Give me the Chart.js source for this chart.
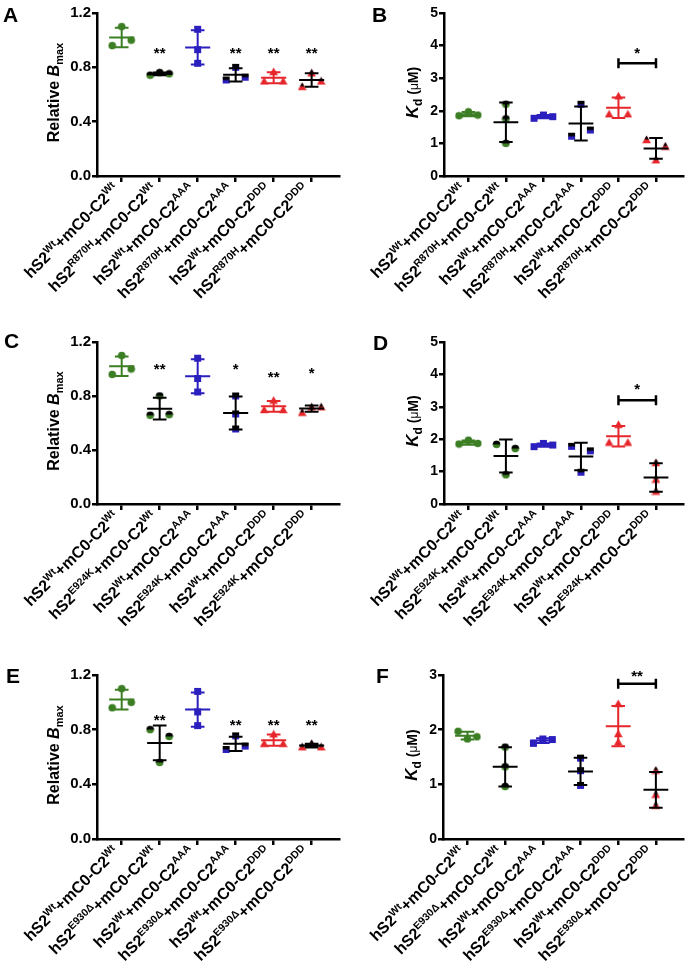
<!DOCTYPE html>
<html>
<head>
<meta charset="utf-8">
<script src="https://cdn.jsdelivr.net/npm/chart.js@4.4.1/dist/chart.umd.min.js"></script>
<style>
  html, body { margin: 0; padding: 0; background: #fff; }
  #wrap { position: relative; width: 688px; height: 970px; }
  canvas { position: absolute; }
</style>
</head>
<body>
<div id="wrap">
  <canvas id="cA" width="344" height="320" style="left:0;top:0"></canvas>
  <canvas id="cB" width="344" height="320" style="left:344px;top:0"></canvas>
  <canvas id="cC" width="344" height="320" style="left:0;top:320px"></canvas>
  <canvas id="cD" width="344" height="320" style="left:344px;top:320px"></canvas>
  <canvas id="cE" width="344" height="330" style="left:0;top:640px"></canvas>
  <canvas id="cF" width="344" height="330" style="left:344px;top:640px"></canvas>
</div>
<script>
// categorie-labels (hS2 variant + C2 variant)
const c2Variants = ['Wt', 'Wt', 'AAA', 'AAA', 'DDD', 'DDD'];
const s2VariantsR870H = ['Wt', 'R870H', 'Wt', 'R870H', 'Wt', 'R870H'];
const s2VariantsE924K = ['Wt', 'E924K', 'Wt', 'E924K', 'Wt', 'E924K'];
const s2VariantsE930D = ['Wt', 'E930Δ', 'Wt', 'E930Δ', 'Wt', 'E930Δ'];

// relatieve Bmax, 3 herhalingen per groep
const bmaxR870H = [[1.10, 0.96, 1.00], [0.742, 0.761, 0.752], [1.08, 0.93, 0.83], [0.80, 0.707, 0.727], [0.77, 0.70, 0.70], [0.76, 0.66, 0.70]];
const bmaxE924K = [[1.10, 0.96, 1.00], [0.80, 0.657, 0.662], [1.08, 0.93, 0.83], [0.80, 0.667, 0.556], [0.77, 0.70, 0.70], [0.68, 0.72, 0.72]];
const bmaxE930D = [[1.10, 0.96, 1.00], [0.80, 0.75, 0.56], [1.08, 0.93, 0.83], [0.755, 0.655, 0.68], [0.77, 0.70, 0.70], [0.675, 0.70, 0.675]];

// Kd in uM
const kdR870H = [[1.85, 1.97, 1.87], [2.20, 1.75, 1.00], [1.77, 1.87, 1.82], [2.20, 1.22, 1.41], [2.46, 1.91, 1.91], [1.12, 0.92, 0.50]];
const kdE924K = [[1.85, 1.97, 1.87], [1.84, 1.71, 0.90], [1.77, 1.87, 1.82], [1.78, 1.64, 0.98], [2.46, 1.91, 1.91], [1.28, 0.77, 0.40]];
const kdE930D = [[1.97, 1.83, 1.87], [1.68, 1.32, 0.96], [1.75, 1.83, 1.82], [1.48, 1.25, 0.98], [2.48, 1.93, 1.78], [1.26, 0.82, 0.62]];

// as-ticks
const bmaxTicks = [0, 0.4, 0.8, 1.2];
const kdTicks5 = [0, 1, 2, 3, 4, 5];
const kdTicks3 = [0, 1, 2, 3];

// significantie sterren (Bmax vs Wt) en hoogte van de sterren
const starsBmaxR870H = ['', '**', '', '**', '**', '**'];
const starLevelsBmaxR870H = [0, 0.93, 0, 0.93, 0.93, 0.93];
const starsBmaxE924K = ['', '**', '', '*', '**', '*'];
const starLevelsBmaxE924K = [0, 1.03, 0, 1.03, 0.97, 0.995];
const starsBmaxE930D = ['', '**', '', '**', '**', '**'];
const starLevelsBmaxE930D = [0, 0.90, 0, 0.863, 0.863, 0.863];

// Kd vergelijking groep 5 vs 6
const kdBracketLabels = ['*', '*', '**'];
const kdBracketLevels = [3.46, 3.2, 2.84];
const kdBracketLabelLevels = [3.87, 3.67, 3.05];

const FONT = "'Liberation Sans', Arial, Helvetica, sans-serif";
const GREEN = '#3c7e24';
const BLUE = '#2b1fbe';
const RED = '#e6262b';
const groupColors = [GREEN, GREEN, BLUE, BLUE, RED, RED];
const barColors = [GREEN, '#000', BLUE, '#000', RED, '#000'];
const groupShapes = ['circle', 'circle', 'rect', 'rect', 'triangle', 'triangle'];
const groupHalf = [false, true, false, true, false, true];

function makeMarker(shape, color, half) {
    const c = document.createElement('canvas');
    c.width = 9; c.height = 9;
    const g = c.getContext('2d');
    const path = () => {
        g.beginPath();
        if (shape === 'circle') g.arc(4.5, 4.5, 3.8, 0, Math.PI * 2);
        else if (shape === 'rect') g.rect(1, 1, 7, 7);
        else { g.moveTo(4.5, 0.5); g.lineTo(8.8, 8.3); g.lineTo(0.2, 8.3); g.closePath(); }
    };
    path();
    g.fillStyle = color;
    g.fill();
    if (half) {
        g.save(); path(); g.clip();
        g.fillStyle = '#000';
        g.fillRect(0, 0, 9, 4.5);
        g.restore();
    }
    return c;
}

const mean = a => a.reduce((s, v) => s + v, 0) / a.length;
const sd = a => { const m = mean(a); return Math.sqrt(a.reduce((s, v) => s + (v - m) * (v - m), 0) / (a.length - 1)); };

// punten die overlappen naast elkaar zetten (zoals Prism doet)
function jitter(vals, range) {
    const thr = 0.045 * range;
    const idx = vals.map((v, i) => i).sort((a, b) => vals[a] - vals[b]);
    const clusters = [[idx[0]]];
    for (let k = 1; k < idx.length; k++) {
        if (vals[idx[k]] - vals[idx[k - 1]] < thr) clusters[clusters.length - 1].push(idx[k]);
        else clusters.push([idx[k]]);
    }
    const off = vals.map(() => 0);
    clusters.forEach(c => {
        c.sort((a, b) => a - b);
        if (c.length > 1) c.forEach((p, j) => { off[p] = -0.25 + j * 0.5 / (c.length - 1); });
    });
    return off;
}

function drawParts(ctx, parts, x0, y0) {
    let cur = x0;
    parts.forEach(p => {
        ctx.font = p.font;
        ctx.fillText(p.t, cur, y0 + (p.dy || 0));
        cur += ctx.measureText(p.t).width;
    });
}
function partsWidth(ctx, parts) {
    let w = 0;
    parts.forEach(p => { ctx.font = p.font; w += ctx.measureText(p.t).width; });
    return w;
}

function makePanel(cfg) {
    const range = cfg.yTicks[cfg.yTicks.length - 1];
    const datasets = cfg.values.map((g, i) => {
        const off = jitter(g, range);
        return {
            data: g.map((v, k) => ({ x: i + off[k], y: v })),
            pointStyle: makeMarker(groupShapes[i], groupColors[i], groupHalf[i]),
            pointRadius: 4,
            showLine: false
        };
    });

    const annot = {
        id: 'annot',
        afterDatasetsDraw(chart) {
            const ctx = chart.ctx;
            const xs = chart.scales.x, ys = chart.scales.y;
            const area = chart.chartArea;
            ctx.save();
            ctx.lineCap = 'butt';

            // foutbalken: gemiddelde +/- SD
            cfg.values.forEach((g, i) => {
                const m = mean(g), s = sd(g);
                const cx = xs.getPixelForValue(i);
                const hw = xs.getPixelForValue(i + 0.33) - cx;
                const cw = xs.getPixelForValue(i + 0.18) - cx;
                const yM = ys.getPixelForValue(m), yT = ys.getPixelForValue(m + s), yB = ys.getPixelForValue(m - s);
                ctx.strokeStyle = barColors[i];
                ctx.lineWidth = 2;
                ctx.beginPath();
                ctx.moveTo(cx - hw, yM); ctx.lineTo(cx + hw, yM);
                ctx.moveTo(cx, yT); ctx.lineTo(cx, yB);
                ctx.moveTo(cx - cw, yT); ctx.lineTo(cx + cw, yT);
                ctx.moveTo(cx - cw, yB); ctx.lineTo(cx + cw, yB);
                ctx.stroke();
            });

            ctx.fillStyle = '#000';
            ctx.textAlign = 'center';
            ctx.textBaseline = 'alphabetic';
            ctx.font = 'bold 15px ' + FONT;
            if (cfg.stars) {
                cfg.stars.forEach((st, i) => {
                    if (!st) return;
                    ctx.fillText(st, xs.getPixelForValue(i), ys.getPixelForValue(cfg.starLevels[i]) + 8.6);
                });
            }
            if (cfg.bracket) {
                const b = cfg.bracket;
                const x1 = xs.getPixelForValue(4), x2 = xs.getPixelForValue(5);
                const yb = ys.getPixelForValue(b.level);
                ctx.strokeStyle = '#000';
                ctx.lineWidth = 2.5;
                ctx.beginPath();
                ctx.moveTo(x1, yb); ctx.lineTo(x2, yb);
                ctx.moveTo(x1, yb - 5); ctx.lineTo(x1, yb + 5);
                ctx.moveTo(x2, yb - 5); ctx.lineTo(x2, yb + 5);
                ctx.stroke();
                ctx.fillText(b.label, (x1 + x2) / 2, ys.getPixelForValue(b.labelLevel) + 8.6);
            }

            // x labels met superscript, 45 graden gedraaid
            ctx.textAlign = 'left';
            c2Variants.forEach((c2, i) => {
                const parts = [
                    { t: 'hS2', font: 'bold 16px ' + FONT },
                    { t: cfg.s2[i], font: 'bold 10.5px ' + FONT, dy: -6 },
                    { t: '+mC0-C2', font: 'bold 16px ' + FONT },
                    { t: c2, font: 'bold 10.5px ' + FONT, dy: -6 }
                ];
                const w = partsWidth(ctx, parts);
                ctx.save();
                ctx.translate(xs.getPixelForValue(i) - 2, area.bottom + 14);
                ctx.rotate(-Math.PI / 4);
                drawParts(ctx, parts, -w, 0);
                ctx.restore();
            });

            // y titel
            let tParts;
            if (cfg.kind === 'bmax') {
                tParts = [
                    { t: 'Relative ', font: 'bold 16px ' + FONT },
                    { t: 'B', font: 'italic bold 16px ' + FONT },
                    { t: 'max', font: 'bold 11px ' + FONT, dy: 4 }
                ];
            } else {
                tParts = [
                    { t: 'K', font: 'italic bold 17px ' + FONT },
                    { t: 'd', font: 'bold 12px ' + FONT, dy: 4 },
                    { t: ' (', font: 'bold 14px ' + FONT },
                    { t: 'μ', font: '12px ' + FONT },
                    { t: 'M)', font: 'bold 14px ' + FONT }
                ];
            }
            const tw = partsWidth(ctx, tParts);
            ctx.save();
            ctx.translate(area.left - cfg.titleOffset, (area.top + area.bottom) / 2 - 2);
            ctx.rotate(-Math.PI / 2);
            drawParts(ctx, tParts, -tw / 2, 6);
            ctx.restore();

            // paneel letter
            ctx.font = 'bold 21px ' + FONT;
            ctx.fillText(cfg.letter, cfg.letterX, cfg.letterY);
            ctx.restore();
        }
    };

    return new Chart(document.getElementById(cfg.id), {
        type: 'scatter',
        data: { datasets: datasets },
        options: {
            responsive: false,
            animation: false,
            events: [],
            layout: { padding: { left: 0, top: cfg.top, right: cfg.right, bottom: 0 } },
            plugins: { legend: { display: false }, tooltip: { enabled: false } },
            scales: {
                x: {
                    type: 'linear',
                    min: -0.65,
                    max: 5.72,
                    afterBuildTicks: s => { s.ticks = c2Variants.map((c, i) => ({ value: i })); },
                    afterFit: s => { s.height = cfg.xHeight; },
                    ticks: { display: false },
                    grid: { drawOnChartArea: false, drawTicks: true, tickLength: 6, color: '#000', lineWidth: 2.5 },
                    border: { color: '#000', width: 2.5 }
                },
                y: {
                    min: 0,
                    max: range,
                    afterBuildTicks: s => { s.ticks = cfg.yTicks.map(v => ({ value: v })); },
                    afterFit: s => { s.width = cfg.yWidth; },
                    ticks: {
                        color: '#000',
                        padding: 1,
                        font: { family: FONT, size: cfg.kind === 'bmax' ? 15 : 14, weight: 'bold' },
                        callback: v => cfg.kind === 'bmax' ? v.toFixed(1) : String(v)
                    },
                    grid: { drawOnChartArea: false, drawTicks: true, tickLength: 5, color: '#000', lineWidth: 2.5 },
                    border: { color: '#000', width: 2.5 }
                }
            }
        },
        plugins: [annot]
    });
}

makePanel({ id: 'cA', kind: 'bmax', letter: 'A', letterX: 3, letterY: 22, values: bmaxR870H, s2: s2VariantsR870H,
    yTicks: bmaxTicks, stars: starsBmaxR870H, starLevels: starLevelsBmaxR870H,
    top: 13, right: 1, xHeight: 144, yWidth: 97, titleOffset: 44 });
makePanel({ id: 'cB', kind: 'kd', letter: 'B', letterX: 28, letterY: 22, values: kdR870H, s2: s2VariantsR870H,
    yTicks: kdTicks5, bracket: { label: kdBracketLabels[0], level: kdBracketLevels[0], labelLevel: kdBracketLabelLevels[0] },
    top: 13, right: 0, xHeight: 144, yWidth: 100, titleOffset: 32 });
makePanel({ id: 'cC', kind: 'bmax', letter: 'C', letterX: 4, letterY: 28, values: bmaxE924K, s2: s2VariantsE924K,
    yTicks: bmaxTicks, stars: starsBmaxE924K, starLevels: starLevelsBmaxE924K,
    top: 22, right: 1, xHeight: 136, yWidth: 97, titleOffset: 44 });
makePanel({ id: 'cD', kind: 'kd', letter: 'D', letterX: 29, letterY: 30, values: kdE924K, s2: s2VariantsE924K,
    yTicks: kdTicks5, bracket: { label: kdBracketLabels[1], level: kdBracketLevels[1], labelLevel: kdBracketLabelLevels[1] },
    top: 22, right: 0, xHeight: 136, yWidth: 100, titleOffset: 32 });
makePanel({ id: 'cE', kind: 'bmax', letter: 'E', letterX: 6, letterY: 43, values: bmaxE930D, s2: s2VariantsE930D,
    yTicks: bmaxTicks, stars: starsBmaxE930D, starLevels: starLevelsBmaxE930D,
    top: 35, right: 1, xHeight: 131, yWidth: 97, titleOffset: 44 });
makePanel({ id: 'cF', kind: 'kd', letter: 'F', letterX: 32, letterY: 43, values: kdE930D, s2: s2VariantsE930D,
    yTicks: kdTicks3, bracket: { label: kdBracketLabels[2], level: kdBracketLevels[2], labelLevel: kdBracketLabelLevels[2] },
    top: 35, right: 0, xHeight: 131, yWidth: 99, titleOffset: 32 });
</script>
</body>
</html>
